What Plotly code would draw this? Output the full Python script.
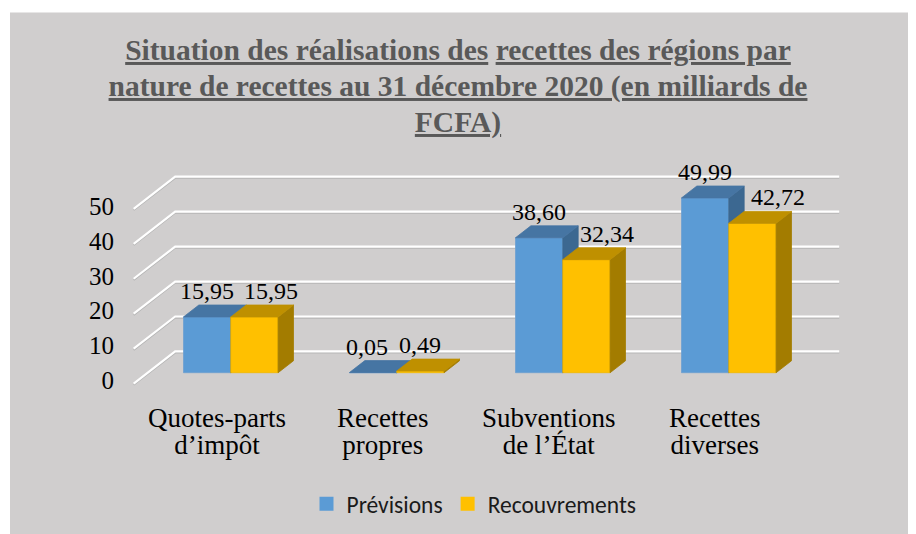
import plotly.graph_objects as go

# ---------------- data ----------------
categories = ["Quotes-parts<br>d’impôt", "Recettes<br>propres",
              "Subventions<br>de l’État", "Recettes<br>diverses"]
series_names = ["Prévisions", "Recouvrements"]
previsions = [15.95, 0.05, 38.60, 49.99]
recouvrements = [15.95, 0.49, 32.34, 42.72]
y_ticks = [0, 10, 20, 30, 40, 50]
title_lines = ["<u>Situation des réalisations des</u> <u>recettes des régions par</u>",
               "<u>nature de recettes au 31 décembre 2020 (en milliards de</u>",
               "<u>FCFA)</u>"]

# ---------------- style / projection ----------------
OFF = 8                              # page offset of the figure (body margin)
W, H = 916 - OFF, 534 - OFF
ML, MR, MT, MB = 115 - OFF, 10, 140 - OFF, 142
X0_PX, X_STEP = 216.7 - OFF, 166.0   # pixel of category 0, pixels per category
Y0_PX, Y_STEP = 384.6 - OFF, 3.51    # pixel of value 0 (front), pixels per unit
KX, KY = 0.25, 9.2                   # oblique depth offsets (axis units)
TF, TB = 0.34, 0.71                  # bar front / back depth
BW = 0.285                           # bar width (category units)
FLOOR = (-0.5, 3.5)

BG = "#D0CECE"
SERIF = "'Liberation Serif', 'DejaVu Serif', serif"
SANS = "Carlito, 'Liberation Sans Narrow', 'Liberation Sans', sans-serif"
colors = [
    dict(front="#5B9BD5", top="#4675A3", side="#3C6891", edge="#6E9FD0"),
    dict(front="#FFC000", top="#BF9000", side="#A37C00", edge="#F0B800"),
]
label_nudge = [[0, -6, 0, 0], [17, 0, 21, 26]]   # px shift of data labels


def P(x, v, t):
    return x + t * KX, v + t * KY


def poly(pts):
    xs = [p[0] for p in pts] + [pts[0][0]]
    ys = [p[1] for p in pts] + [pts[0][1]]
    return xs, ys


def tight(lines, size):
    # glyphs drawn at `size` px while the line pitch follows the smaller base font
    return "<br>".join(f"<span style='font-size:{size}px'>{ln}</span>" for ln in lines)


fig = go.Figure()

# gridlines: left wall diagonals + back wall
gx, gy, sy = [], [], []
for v in y_ticks:
    pts = [P(FLOOR[0], v, 0), P(FLOOR[0], v, 1), P(FLOOR[1], v, 1)]
    gx += [p[0] for p in pts] + [None]
    gy += [p[1] for p in pts] + [None]
    sy += [p[1] - 0.4 for p in pts] + [None]
fig.add_trace(go.Scatter(x=gx, y=sy, mode="lines", line=dict(color="#B5B5B5", width=1.5),
                         hoverinfo="skip", showlegend=False))
fig.add_trace(go.Scatter(x=gx, y=gy, mode="lines", line=dict(color="#FFFFFF", width=2.2),
                         hoverinfo="skip", showlegend=False))

series = [previsions, recouvrements]
annotations = []
for i in range(len(categories)):
    for s, vals in enumerate(series):
        v = vals[i]
        x0 = i - BW + s * BW
        x1 = x0 + BW
        c = colors[s]
        faces = [
            ("front", [P(x0, 0, TF), P(x1, 0, TF), P(x1, v, TF), P(x0, v, TF)]),
            ("side", [P(x1, 0, TF), P(x1, 0, TB), P(x1, v, TB), P(x1, v, TF)]),
            ("top", [P(x0, v, TF), P(x1, v, TF), P(x1, v, TB), P(x0, v, TB)]),
        ]
        for name, pts in faces:
            xs, ys = poly(pts)
            fig.add_trace(go.Scatter(
                x=xs, y=ys, mode="lines", fill="toself", fillcolor=c[name],
                line=dict(color=c["edge"] if name == "front" else c[name], width=0.8),
                hoverinfo="skip", showlegend=False))
        lx, ly = P((x0 + x1) / 2, v, TF)
        annotations.append(dict(
            x=lx, y=ly, xref="x", yref="y", text=f"{v:.2f}".replace(".", ","),
            showarrow=False, yshift=26, xshift=label_nudge[s][i],
            font=dict(family=SERIF, size=24, color="#000000")))

# category labels (two lines each, tight line spacing as in the original)
for i, cat in enumerate(categories):
    annotations.append(dict(
        x=i, y=0, xref="x", yref="y", text=tight(cat.split("<br>"), 27),
        showarrow=False, yshift=-17, yanchor="top",
        font=dict(family=SERIF, size=21, color="#000000")))

# legend entries
for s, name in enumerate(series_names):
    fig.add_trace(go.Scatter(x=[None], y=[None], mode="markers", name=name,
                             marker=dict(symbol="square", size=14, color=colors[s]["front"])))

pw = W - ML - MR
ph = H - MT - MB
xr = [(ML - X0_PX) / X_STEP, (W - MR - X0_PX) / X_STEP]
yr = [(Y0_PX - (H - MB)) / Y_STEP, (Y0_PX - MT) / Y_STEP]

fig.update_layout(
    width=W, height=H,
    margin=dict(l=ML, r=MR, t=MT, b=MB),
    paper_bgcolor="#FFFFFF",
    plot_bgcolor="rgba(0,0,0,0)",
    title=dict(text="<b>" + tight(title_lines, 29.5) + "</b>",
               x=(458 - OFF) / W, xanchor="center", xref="container",
               y=1 - (60 - OFF) / H, yanchor="top", yref="container",
               font=dict(family=SERIF, size=27.7, color="#595959")),
    xaxis=dict(range=xr, showticklabels=False, showgrid=False, zeroline=False,
               showline=False, ticks=""),
    yaxis=dict(range=yr, tickvals=y_ticks, showgrid=False, zeroline=False,
               showline=False, ticks="", ticklabelstandoff=0, ticklabelshift=-3,
               tickfont=dict(family=SERIF, size=25, color="#000000")),
    legend=dict(orientation="h", x=(474 - OFF - ML) / pw, xanchor="center",
                y=-(504 - OFF - (H - MB)) / ph, yanchor="middle",
                font=dict(family=SANS, size=23.5, color="#1A1A1A"),
                bgcolor="rgba(0,0,0,0)"),
    annotations=annotations,
    shapes=[dict(type="rect", xref="paper", yref="paper",
                 x0=(10 - OFF - ML) / pw, x1=(W + 5 - ML) / pw,
                 y0=-(H + 5 - (H - MB)) / ph, y1=(H - MB - (12 - OFF)) / ph,
                 fillcolor=BG, line=dict(width=0), layer="below")],
    showlegend=True,
)

fig.write_html("out.html")
